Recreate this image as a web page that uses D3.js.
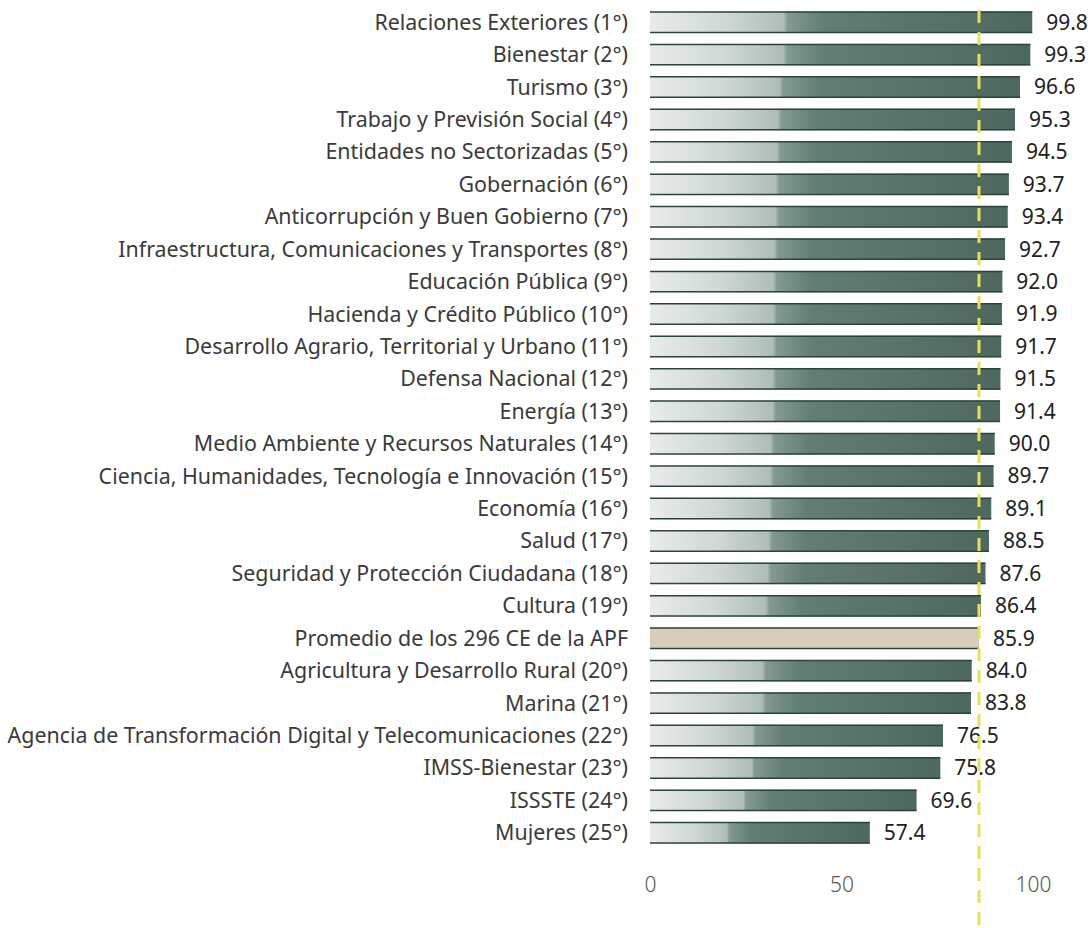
<!DOCTYPE html>
<html>
<head>
<meta charset="utf-8">
<script src="https://cdn.jsdelivr.net/npm/d3@7"></script>
<style>
  body { margin: 0; background: #fff; }
  text { font-family: "Noto Sans", "Open Sans", sans-serif; }
</style>
</head>
<body>
<div id="chart"></div>
<script>
const labels = [
  "Relaciones Exteriores (1°)",
  "Bienestar (2°)",
  "Turismo (3°)",
  "Trabajo y Previsión Social (4°)",
  "Entidades no Sectorizadas (5°)",
  "Gobernación (6°)",
  "Anticorrupción y Buen Gobierno (7°)",
  "Infraestructura, Comunicaciones y Transportes (8°)",
  "Educación Pública (9°)",
  "Hacienda y Crédito Público (10°)",
  "Desarrollo Agrario, Territorial y Urbano (11°)",
  "Defensa Nacional (12°)",
  "Energía (13°)",
  "Medio Ambiente y Recursos Naturales (14°)",
  "Ciencia, Humanidades, Tecnología e Innovación (15°)",
  "Economía (16°)",
  "Salud (17°)",
  "Seguridad y Protección Ciudadana (18°)",
  "Cultura (19°)",
  "Promedio de los 296 CE de la APF",
  "Agricultura y Desarrollo Rural (20°)",
  "Marina (21°)",
  "Agencia de Transformación Digital y Telecomunicaciones (22°)",
  "IMSS-Bienestar (23°)",
  "ISSSTE (24°)",
  "Mujeres (25°)"
];
const values = [99.8, 99.3, 96.6, 95.3, 94.5, 93.7, 93.4, 92.7, 92.0, 91.9, 91.7, 91.5, 91.4,
  90.0, 89.7, 89.1, 88.5, 87.6, 86.4, 85.9, 84.0, 83.8, 76.5, 75.8, 69.6, 57.4];
const averageLabel = "Promedio de los 296 CE de la APF";
const averageValue = 85.9;
const xTicks = [0, 50, 100];

const W = 1092, H = 928;
const data = labels.map((l, i) => ({ label: l, value: values[i], avg: l === averageLabel }));

const x = d3.scaleLinear().domain([0, 100]).range([650, 1033]);
const y = d3.scaleBand().domain(labels).range([6, 849]).paddingInner(0.34).paddingOuter(0.17);

const svg = d3.select("#chart").append("svg")
  .attr("width", W).attr("height", H);

const defs = svg.append("defs");
const grad = defs.append("linearGradient").attr("id", "barGrad")
  .attr("x1", "0").attr("x2", "1").attr("y1", "0").attr("y2", "0");
[["0%", "#e8eceb"], ["20%", "#cfd8d5"], ["35%", "#aebdb8"], ["36%", "#829a92"],
 ["46%", "#627e74"], ["100%", "#4d685f"]].forEach(([o, c]) =>
  grad.append("stop").attr("offset", o).attr("stop-color", c));

const rows = svg.append("g").selectAll("g").data(data).join("g")
  .attr("transform", d => `translate(0,${y(d.label)})`);

rows.append("rect")
  .attr("x", x(0))
  .attr("width", d => x(d.value) - x(0))
  .attr("height", y.bandwidth())
  .attr("fill", d => d.avg ? "#d8cdb9" : "url(#barGrad)");

// dark top and bottom edges
rows.append("line")
  .attr("x1", x(0)).attr("x2", d => x(d.value))
  .attr("y1", 0.5).attr("y2", 0.5)
  .attr("stroke", "#2c443b").attr("stroke-width", 1.5);
rows.append("line")
  .attr("x1", x(0)).attr("x2", d => x(d.value))
  .attr("y1", y.bandwidth() - 0.5).attr("y2", y.bandwidth() - 0.5)
  .attr("stroke", "#2c443b").attr("stroke-width", 1.5);

rows.append("text")
  .attr("x", 628)
  .attr("y", y.bandwidth() / 2)
  .attr("dy", "0.35em")
  .attr("text-anchor", "end")
  .attr("font-size", 21.4)
  .attr("fill", "#3a3a3a")
  .text(d => d.label);

rows.append("text")
  .attr("x", d => x(d.value) + 14)
  .attr("y", y.bandwidth() / 2)
  .attr("dy", "0.35em")
  .attr("font-size", 21)
  .attr("fill", "#222")
  .text(d => d.value.toFixed(1));

// average reference line
svg.append("line")
  .attr("x1", x(averageValue)).attr("x2", x(averageValue))
  .attr("y1", 10).attr("y2", H)
  .attr("stroke", "#e6df5c")
  .attr("stroke-width", 3)
  .attr("stroke-dasharray", "13,9");

const axis = svg.append("g")
  .attr("transform", "translate(0,877)")
  .call(d3.axisBottom(x).tickValues(xTicks).tickSize(0).tickPadding(0));
axis.select(".domain").remove();
axis.selectAll("text")
  .attr("font-family", "\"Noto Sans\", sans-serif")
  .attr("font-weight", 300)
  .attr("font-size", 21)
  .attr("fill", "#555");
</script>
</body>
</html>
